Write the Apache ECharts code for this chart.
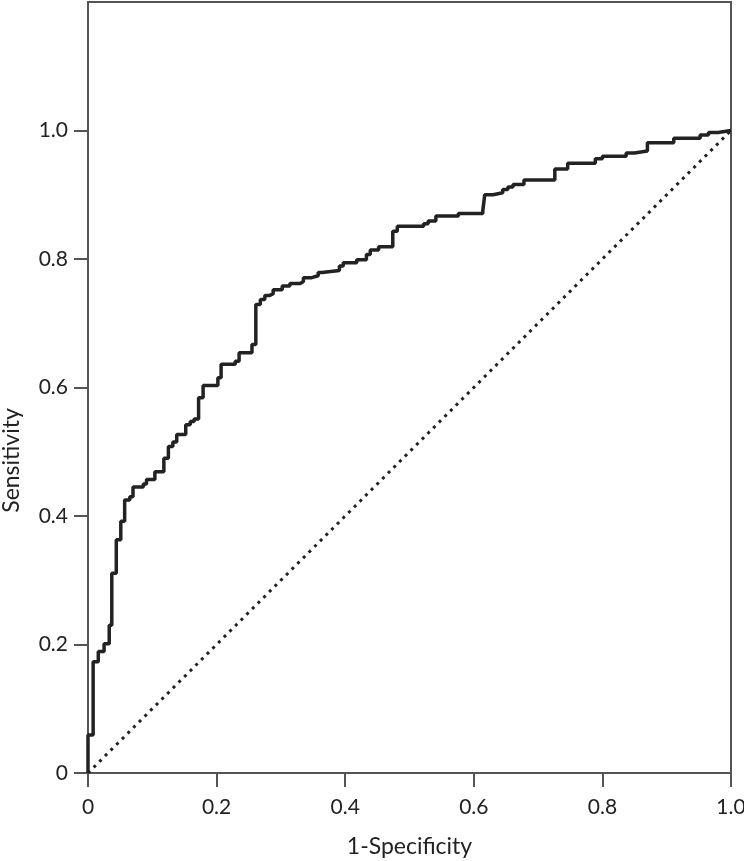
<!DOCTYPE html>
<html>
<head>
<meta charset="utf-8">
<title>ROC curve</title>
<script src="https://cdn.jsdelivr.net/npm/echarts@6/dist/echarts.min.js"></script>
<style>
  html, body { margin: 0; padding: 0; background: #fff; }
  #roc { width: 744px; height: 861px; }
</style>
</head>
<body>
<div id="roc"></div>
<script>
// ROC curve corners (1-specificity, sensitivity)
var fpr = [0, 0, 0.008, 0.016, 0.025, 0.033, 0.037, 0.044, 0.051, 0.057, 0.065,
  0.070, 0.086, 0.091, 0.104, 0.118, 0.125, 0.132, 0.138, 0.152, 0.159, 0.165,
  0.172, 0.179, 0.202, 0.207, 0.229, 0.235, 0.255, 0.261, 0.268, 0.275, 0.282,
  0.288, 0.302, 0.314, 0.330, 0.335, 0.348, 0.358, 0.364, 0.391, 0.397, 0.418,
  0.433, 0.439, 0.452, 0.474, 0.481, 0.522, 0.529, 0.541, 0.576, 0.614, 0.617,
  0.630, 0.645, 0.653, 0.661, 0.678, 0.726, 0.746, 0.789, 0.800, 0.837, 0.850,
  0.870, 0.911, 0.952, 0.965, 0.980, 1.0];
var tpr = [0, 0.059, 0.173, 0.189, 0.201, 0.230, 0.311, 0.363, 0.392, 0.425, 0.430,
  0.445, 0.450, 0.457, 0.469, 0.490, 0.508, 0.515, 0.527, 0.542, 0.547, 0.551,
  0.584, 0.603, 0.615, 0.636, 0.641, 0.654, 0.667, 0.729, 0.737, 0.743, 0.746,
  0.752, 0.758, 0.762, 0.765, 0.771, 0.774, 0.779, 0.782, 0.789, 0.794, 0.799,
  0.807, 0.814, 0.819, 0.843, 0.851, 0.855, 0.859, 0.867, 0.871, 0.875, 0.900,
  0.903, 0.908, 0.912, 0.916, 0.923, 0.940, 0.949, 0.956, 0.960, 0.965, 0.968,
  0.981, 0.988, 0.993, 0.997, 1.0, 1.0];

var refLine = [[0, 0], [1, 1]];
var ticks = [0, 0.2, 0.4, 0.6, 0.8, 1.0];

var rocData = fpr.map(function (x, i) { return [x, tpr[i]]; });

var chart = echarts.init(document.getElementById("roc"));

function fmt(v) {
  return v === 0 ? "0" : v.toFixed(1);
}

var axisFont = { color: "#222", fontSize: 21, fontFamily: "Lato" };

var option = {
  animation: false,
  grid: {
    left: 88,
    right: 13,
    top: 2,
    bottom: 88,
    outerBoundsMode: "none",
    show: true,
    borderColor: "#555",
    borderWidth: 2,
  },
  xAxis: {
    type: "value",
    min: 0,
    max: 1,
    name: "1-Specificity",
    nameLocation: "middle",
    nameGap: 62,
    nameTextStyle: { color: "#222", fontSize: 23, fontFamily: "Lato" },
    splitLine: { show: false },
    axisLine: { lineStyle: { color: "#555", width: 2 } },
    axisTick: { length: 14, lineStyle: { color: "#555", width: 2 }, customValues: ticks },
    axisLabel: Object.assign({ margin: 24, formatter: fmt, customValues: ticks }, axisFont),
  },
  yAxis: {
    type: "value",
    min: 0,
    max: 1.2,
    name: "Sensitivity",
    nameLocation: "middle",
    nameGap: 65,
    nameTextStyle: { color: "#222", fontSize: 23, fontFamily: "Lato", padding: [0, 146, 0, 0] },
    splitLine: { show: false },
    axisLine: { show: true, lineStyle: { color: "#555", width: 2 } },
    axisTick: { show: true, length: 14, lineStyle: { color: "#555", width: 2 }, customValues: ticks },
    axisLabel: Object.assign({ margin: 20, formatter: fmt, customValues: ticks }, axisFont),
  },
  series: [
    {
      name: "Reference",
      type: "line",
      data: refLine,
      symbol: "none",
      lineStyle: { color: "#222", width: 3, type: [3, 5] },
    },
    {
      name: "ROC",
      type: "line",
      step: "end",
      data: rocData,
      symbol: "none",
      lineStyle: { color: "#222", width: 3.5 },
    },
  ],
};

chart.setOption(option);
</script>
</body>
</html>
